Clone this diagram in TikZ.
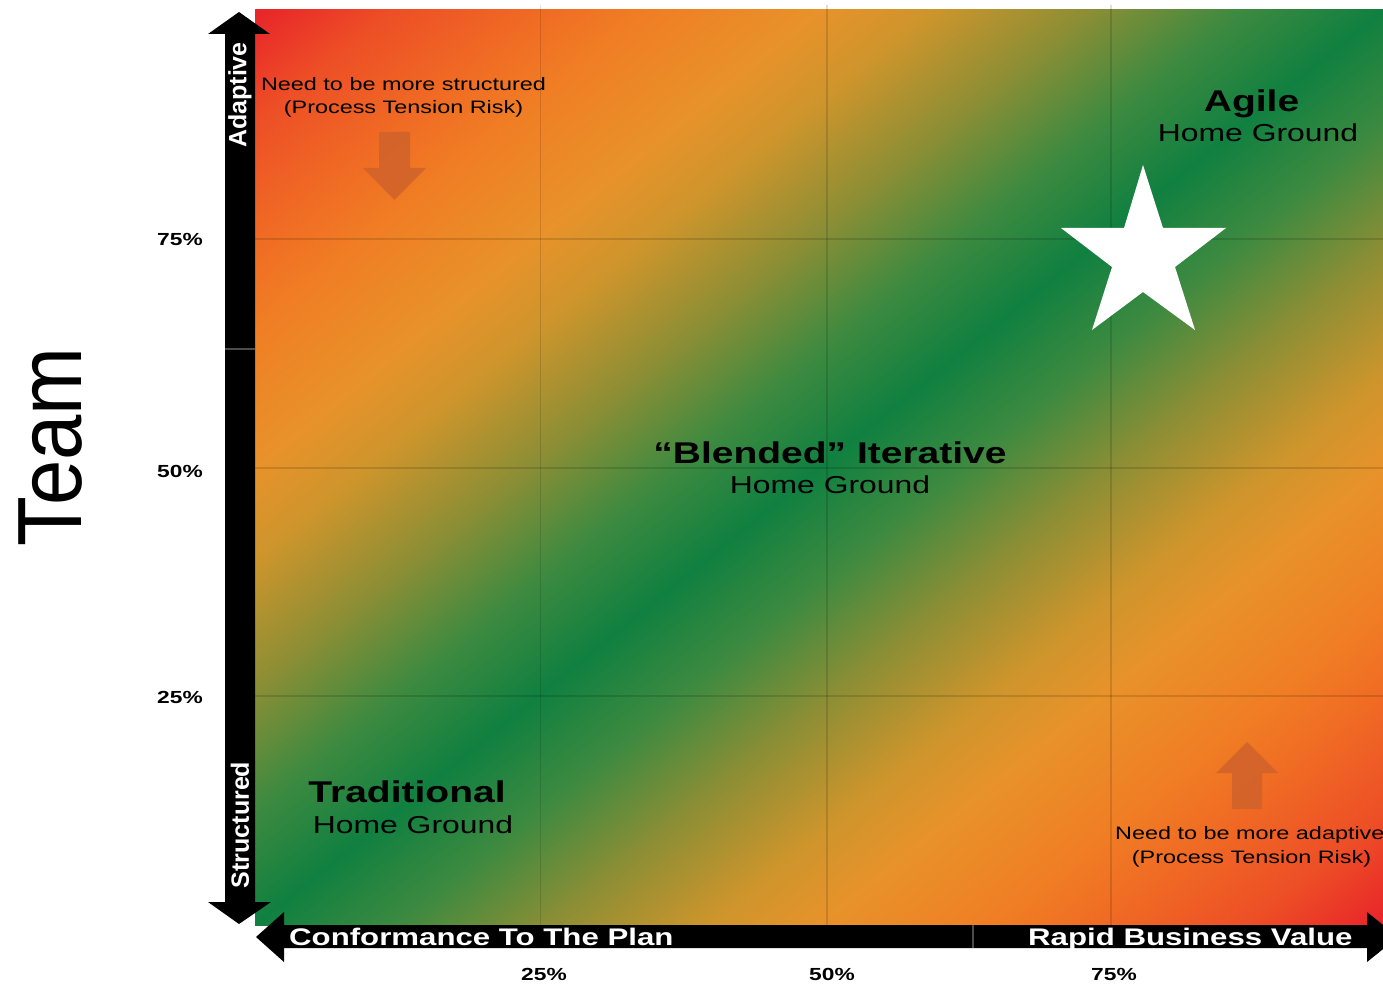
\documentclass[tikz,border=0pt]{standalone}
\usepackage{fontspec}
\setmainfont{Liberation Sans}
\usepackage{graphicx}
\definecolor{cRed}{RGB}{232,35,42}
\definecolor{cA}{RGB}{237,78,38}
\definecolor{cB}{RGB}{240,106,36}
\definecolor{cC}{RGB}{240,126,36}
\definecolor{cD}{RGB}{232,146,42}
\definecolor{cE}{RGB}{206,149,44}
\definecolor{cF}{RGB}{140,142,53}
\definecolor{cG}{RGB}{62,138,64}
\definecolor{cGreen}{RGB}{16,128,64}
\definecolor{hint}{RGB}{208,98,42}
\pgfdeclareverticalshading{diagband}{100bp}{%
  color(0bp)=(cRed); color(25bp)=(cRed); color(28bp)=(cA); color(31.25bp)=(cB);
  color(33.75bp)=(cC); color(37.5bp)=(cD); color(40bp)=(cE); color(43.5bp)=(cF);
  color(46.8bp)=(cG); color(50bp)=(cGreen); color(53.2bp)=(cG); color(56.5bp)=(cF);
  color(60bp)=(cE); color(62.5bp)=(cD); color(66.25bp)=(cC); color(68.75bp)=(cB);
  color(72bp)=(cA); color(75bp)=(cRed); color(100bp)=(cRed)}
\newcommand\hw[1]{\scalebox{1.3}[1]{#1}}
\newcommand\fs[1]{\fontsize{#1}{#1}\selectfont}
\tikzset{
  lbl/.style={inner sep=0pt, text=black},
  axtxt/.style={inner sep=0pt, text=white, font=\bfseries},
  gridline/.style={black, opacity=0.13, line width=1.5pt},
  seam/.style={draw=black!70!white, line width=1.2pt},
  hintarrow/.style={fill=hint, opacity=0.85},
}
\begin{document}
\begin{tikzpicture}[x=1pt,y=-1pt]
\useasboundingbox (0,0) rectangle (1383,984);
\fill[white] (0,0) rectangle (1383,984);
% gradient background
\begin{scope}
  \clip (255,10) rectangle (1383,925);
  \begin{scope}[transform canvas={shift={(819,467.5)}, rotate=39.05}]
    \shade[shading=diagband] (-900,-711) rectangle (900,711);
  \end{scope}
\end{scope}
% grid
\foreach \gx in {540.5,827,1111} \draw[gridline] (\gx,5) -- (\gx,925);
\foreach \gy in {239,468,696} \draw[gridline] (255,\gy) -- (1383,\gy);
% hint arrows
\fill[hintarrow] (379,132) -- (410,132) -- (410,168) -- (426,168) -- (394.5,200) -- (363,168) -- (379,168) -- cycle;
\fill[hintarrow] (1232,809) -- (1262,809) -- (1262,773) -- (1278,773) -- (1247,742) -- (1216,773) -- (1232,773) -- cycle;
% star
\fill[white] (1143,165) -- (1163,228) -- (1226,228) -- (1175,267) -- (1195,330) -- (1143,292) -- (1092,330) -- (1112,267) -- (1061,228) -- (1124,228) -- cycle;
% vertical axis arrow
\fill[black] (225,34) -- (208,34) -- (239,12) -- (270,34) -- (255,34) -- (255,902) -- (271,902) -- (239,924) -- (208,902) -- (225,902) -- cycle;
\draw[seam] (225,349) -- (255,349);
% horizontal axis arrow
\fill[black] (284,925) -- (284,912) -- (256,937) -- (284,962) -- (284,948) -- (1367,948) -- (1367,962) -- (1398,937) -- (1367,912) -- (1367,925) -- cycle;
\draw[seam] (973,925) -- (973,948);
% axis texts
\node[axtxt, rotate=90] (adaptive) at (240,95) {\fs{25}Adaptive};
\node[axtxt, rotate=90] (structured) at (240,825) {\fs{25}Structured};
\node[axtxt, anchor=base west] (conf) at (289,945) {\fs{24}\hw{Conformance To The Plan}};
\node[axtxt, anchor=base west] (rapid) at (1028,945) {\fs{24}\hw{Rapid Business Value}};
% team
\node[lbl, rotate=90] (team) at (51,447) {\fs{81.5}\scalebox{1}[1.12]{Team}};
% ticks
\node[lbl, anchor=base] (y75) at (180,246) {\fs{17.5}\bfseries\hw{75\%}};
\node[lbl, anchor=base] (y50) at (180,477) {\fs{17.5}\bfseries\hw{50\%}};
\node[lbl, anchor=base] (y25) at (180,703) {\fs{17.5}\bfseries\hw{25\%}};
\node[lbl, anchor=base] (x25) at (544,980) {\fs{17.5}\bfseries\hw{25\%}};
\node[lbl, anchor=base] (x50) at (832,980) {\fs{17.5}\bfseries\hw{50\%}};
\node[lbl, anchor=base] (x75) at (1114,980) {\fs{17.5}\bfseries\hw{75\%}};
% region labels
\node[lbl, anchor=base] (tl1) at (403.5,91) {\fs{18}\hw{Need to be more structured}};
\node[lbl, anchor=base] (tl2) at (403.5,114) {\fs{18}\hw{(Process Tension Risk)}};
\node[lbl, anchor=base] (agile) at (1251.5,112) {\fs{30}\bfseries\hw{Agile}};
\node[lbl, anchor=base] (agilehg) at (1258,142) {\fs{24.5}\hw{Home Ground}};
\node[lbl, anchor=base] (blend) at (830,463) {\fs{30}\bfseries\hw{“Blended” Iterative}};
\node[lbl, anchor=base] (blendhg) at (830,493) {\fs{24.5}\hw{Home Ground}};
\node[lbl, anchor=base] (trad) at (407,802) {\fs{30}\bfseries\hw{Traditional}};
\node[lbl, anchor=base] (tradhg) at (413,833) {\fs{24.5}\hw{Home Ground}};
\node[lbl, anchor=base west] (br1) at (1115,839) {\fs{18}\hw{Need to be more adaptive}};
\node[lbl, anchor=base] (br2) at (1251.5,863) {\fs{18}\hw{(Process Tension Risk)}};
\end{tikzpicture}
\end{document}
